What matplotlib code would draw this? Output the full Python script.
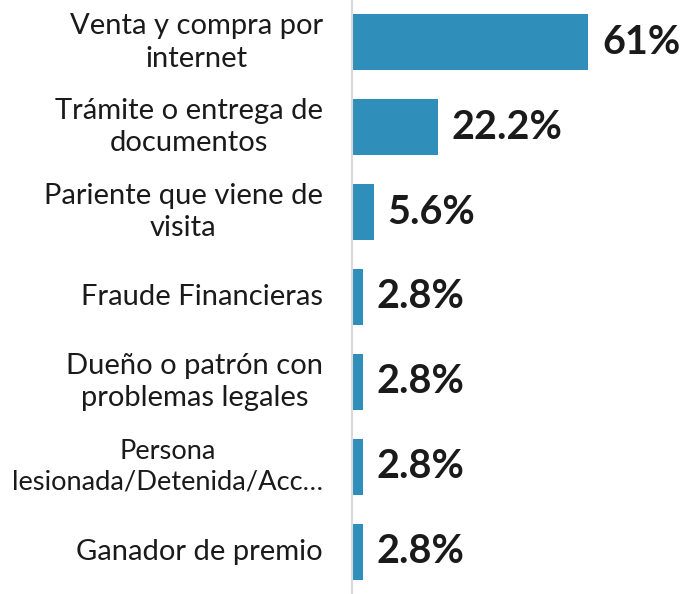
import matplotlib
matplotlib.use("Agg")
import matplotlib.pyplot as plt

categories = [
    "Venta y compra por\ninternet",
    "Trámite o entrega de\ndocumentos",
    "Pariente que viene de\nvisita",
    "Fraude Financieras",
    "Dueño o patrón con\nproblemas legales",
    "Persona\nlesionada/Detenida/Acc…",
    "Ganador de premio",
]
values = [61, 22.2, 5.6, 2.8, 2.8, 2.8, 2.8]
value_labels = ["61%", "22.2%", "5.6%", "2.8%", "2.8%", "2.8%", "2.8%"]

BAR_COLOR = "#2F8FBA"
TEXT_COLOR = "#1a1a1a"
FONT = "Lato"

fig = plt.figure(figsize=(6.83, 5.94), dpi=100)
ax = fig.add_axes([352 / 683, 0.0, 1 - 352 / 683, 1.0])

ypos = list(range(len(values)))
ax.barh(ypos, values, height=0.66, color=BAR_COLOR, zorder=2)

ax.set_ylim(len(values) - 0.5, -0.5)
ax.set_xlim(0, 85.5)

for y, v, lab in zip(ypos, values, value_labels):
    ax.annotate(lab, xy=(v, y), xytext=(10, 0), textcoords="offset points",
                ha="left", va="center", fontsize=28.5, fontweight="bold",
                color=TEXT_COLOR, family=FONT)

renderer = fig.canvas.get_renderer()
max_width_px = 312
for y, cat in zip(ypos, categories):
    t = ax.annotate(cat, xy=(0, y), xytext=(-21, 0), textcoords="offset points",
                    ha="right", va="center", multialignment="center",
                    fontsize=21, color=TEXT_COLOR, family=FONT, linespacing=1.3)
    w = t.get_window_extent(renderer).width
    if w > max_width_px:
        t.set_fontsize(21 * max_width_px / w)

for s in ["top", "right", "bottom"]:
    ax.spines[s].set_visible(False)
ax.spines["left"].set_color("#d9d9d9")
ax.spines["left"].set_linewidth(1.5)
ax.set_xticks([])
ax.set_yticks([])

fig.savefig("out.png", dpi=100)
